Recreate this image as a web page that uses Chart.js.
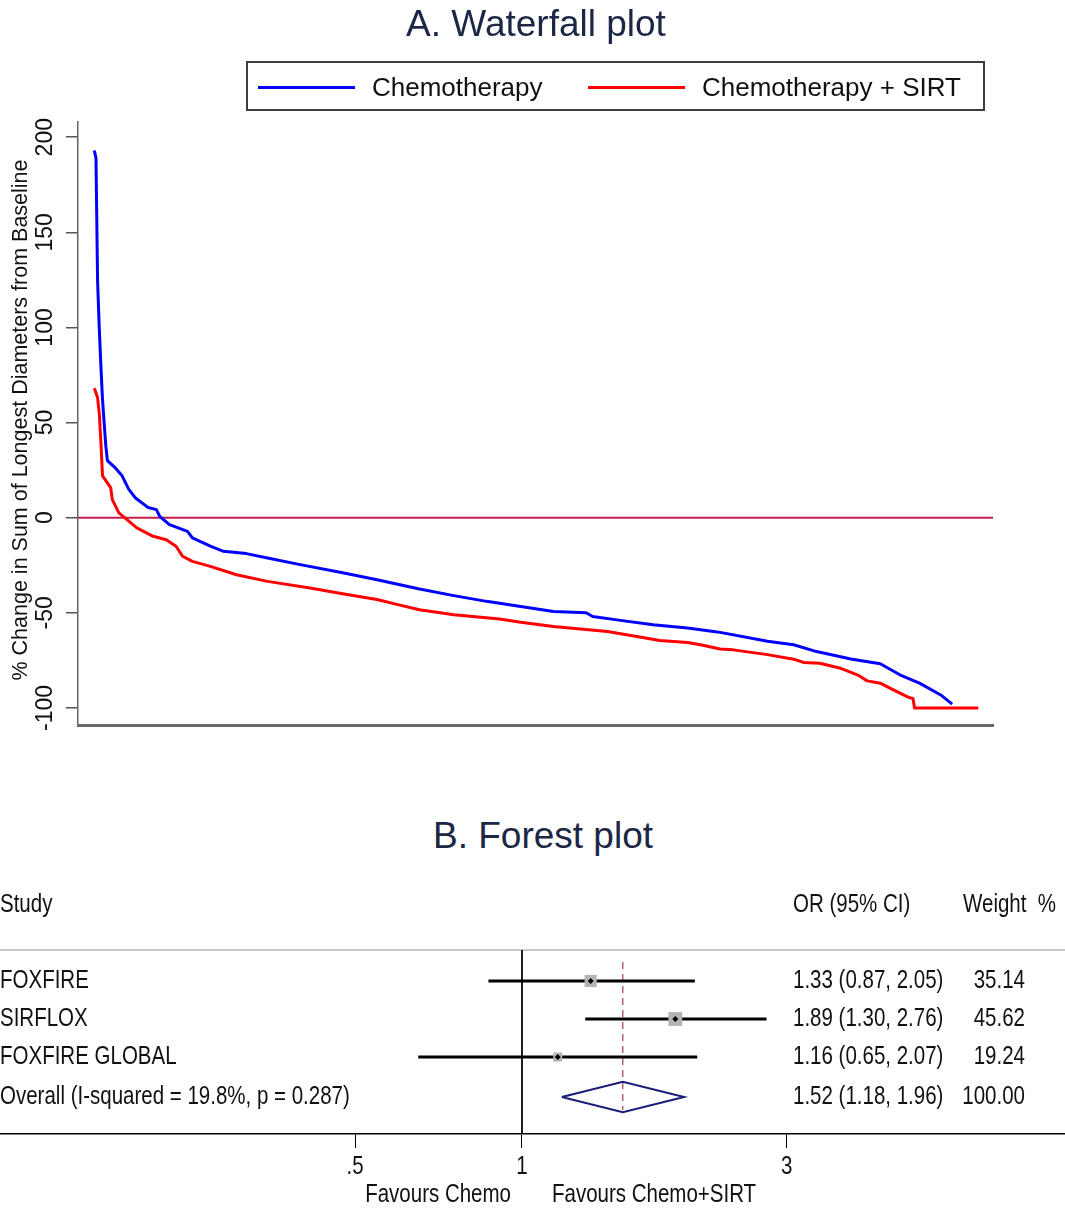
<!DOCTYPE html>
<html>
<head>
<meta charset="utf-8">
<script src="https://cdn.jsdelivr.net/npm/chart.js@4.4.1/dist/chart.umd.min.js"></script>
<style>
  body { margin: 0; background: #fff; }
  #page { position: relative; width: 1065px; height: 1214px; overflow: hidden; font-family: 'Liberation Sans', Arial, sans-serif; }
  .title { position: absolute; color: #1b2745; font-size: 37px; line-height: 40px; text-align: center; white-space: nowrap; }
  #legend { position: absolute; left: 246px; top: 61px; width: 739px; height: 50px; box-sizing: border-box; border: 2px solid #3c3c3c; }
  .swatch { position: absolute; top: 23px; height: 3px; width: 97px; }
  .ltext { position: absolute; top: 9px; font-size: 26px; line-height: 30px; color: #111; white-space: nowrap; }
  #topWrap { position: absolute; left: 0; top: 0; width: 1065px; height: 760px; }
  #forestWrap { position: absolute; left: 0; top: 870px; width: 1065px; height: 344px; }
</style>
</head>
<body>
<div id="page">
  <div id="topWrap"><canvas id="waterfall"></canvas></div>
  <div class="title" style="left:336px; top:4px; width:400px;">A. Waterfall plot</div>
  <div id="legend">
    <div class="swatch" style="left:10px; background:#0000ff;"></div>
    <div class="ltext" style="left:124px;">Chemotherapy</div>
    <div class="swatch" style="left:340px; background:#ff0000;"></div>
    <div class="ltext" style="left:454px;">Chemotherapy + SIRT</div>
  </div>
  <div class="title" style="left:343px; top:816px; width:400px;">B. Forest plot</div>
  <div id="forestWrap"><canvas id="forest"></canvas></div>
</div>
<script>
// ---- Waterfall data (patient rank, % change) ----
const chemoRank = [1, 2, 3, 4, 5, 6, 7, 8, 9, 14, 18, 22, 26, 34, 39, 41, 47, 58, 61, 72, 80, 94, 107, 127, 153, 174, 200, 221, 241, 262, 282, 302, 306, 323, 343, 364, 380, 384, 413, 429, 443, 464, 482, 494, 506, 519, 526];
const chemoPct  = [193, 189, 124, 100, 80, 62, 50, 38, 30, 26, 22, 15, 10.5, 5.3, 4.2, 0.7, -3.7, -7.2, -10.6, -15, -17.7, -18.9, -21.2, -24.7, -29, -32.6, -37.5, -41, -44, -46.7, -49.3, -50, -52, -54, -56.3, -58, -59.8, -60.3, -65, -66.8, -70.4, -74.3, -76.8, -82.6, -87, -93.2, -98];
const sirtRank  = [1, 3, 4, 5, 6, 11, 12, 16, 21, 27, 37, 45, 51, 55, 61, 72, 88, 107, 133, 153, 174, 188, 200, 221, 249, 262, 282, 315, 333, 347, 364, 372, 384, 392, 413, 429, 435, 445, 457, 468, 474, 482, 490, 500, 502, 503, 542];
const sirtPct   = [68, 63, 55, 40, 22, 15.8, 9.5, 2.5, -1, -5.4, -9.8, -11.6, -15, -20.3, -23, -25.6, -30, -33.5, -37, -40, -43, -46, -48.4, -51, -53.3, -55, -57.2, -59.8, -62.5, -64.6, -65.6, -66.8, -69, -69.5, -72, -74.4, -76.1, -76.5, -79, -82.6, -85.8, -87, -90.5, -94.7, -95, -100, -100];
const rankRange = [-9, 551];
const yTicks = [-100, -50, 0, 50, 100, 150, 200];
const yRange = [-109, 208];

// ---- Forest data ----
const studies   = ['FOXFIRE', 'SIRFLOX', 'FOXFIRE GLOBAL'];
const orEst     = [1.33, 1.89, 1.16];
const ciLow     = [0.87, 1.30, 0.65];
const ciHigh    = [2.05, 2.76, 2.07];
const weights   = [35.14, 45.62, 19.24];
const overallLabel = 'Overall (I-squared = 19.8%, p = 0.287)';
const overall   = [1.52, 1.18, 1.96, 100.00]; // est, low, high, weight
const rowPos    = [1, 2, 3, 4.05];
const forestTicks = [0.5, 1, 3];
const forestTickLabels = ['.5', '1', '3'];

const toXY = (xs, ys) => xs.map((x, i) => ({ x: x, y: ys[i] }));

// y tick labels + axis title, rotated like the original
const waterfallText = {
  id: 'waterfallText',
  afterDraw(chart) {
    const ctx = chart.ctx;
    const y = chart.scales.y;
    ctx.save();
    ctx.fillStyle = '#111';
    ctx.textAlign = 'center';
    ctx.textBaseline = 'middle';
    ctx.font = '23px "Liberation Sans", Arial, sans-serif';
    yTicks.forEach(v => {
      ctx.save();
      ctx.translate(46, y.getPixelForValue(v));
      ctx.rotate(-Math.PI / 2);
      ctx.fillText(String(v), 0, 0);
      ctx.restore();
    });
    ctx.font = '21.5px "Liberation Sans", Arial, sans-serif';
    ctx.translate(21, 420);
    ctx.rotate(-Math.PI / 2);
    ctx.fillText('% Change in Sum of Longest Diameters from Baseline', 0, 0);
    ctx.restore();
  }
};

new Chart(document.getElementById('waterfall'), {
  type: 'scatter',
  data: {
    datasets: [
      { label: 'Chemotherapy', data: toXY(chemoRank, chemoPct), showLine: true, borderColor: '#0000ff', borderWidth: 3, pointRadius: 0, tension: 0, borderJoinStyle: 'round' },
      { label: 'Chemotherapy + SIRT', data: toXY(sirtRank, sirtPct), showLine: true, borderColor: '#ff0000', borderWidth: 3, pointRadius: 0, tension: 0, borderJoinStyle: 'round' },
      { label: 'zero', data: toXY(rankRange, [0, 0]), showLine: true, borderColor: '#c41e4a', borderWidth: 2, pointRadius: 0 }
    ]
  },
  options: {
    responsive: true,
    maintainAspectRatio: false,
    animation: false,
    layout: { autoPadding: false, padding: { top: 122, left: 66, right: 72, bottom: 27 } },
    plugins: { legend: { display: false }, tooltip: { enabled: false } },
    scales: {
      x: {
        type: 'linear', min: rankRange[0], max: rankRange[1],
        grid: { display: false },
        ticks: { display: false },
        border: { display: true, color: '#6a6a6a', width: 3 }
      },
      y: {
        type: 'linear', min: yRange[0], max: yRange[1],
        afterBuildTicks: s => { s.ticks = yTicks.map(v => ({ value: v })); },
        grid: { display: true, drawOnChartArea: false, drawTicks: true, tickLength: 12, color: '#555', lineWidth: 1.5 },
        ticks: { display: false },
        border: { display: true, color: '#666', width: 1.5 }
      }
    }
  },
  plugins: [waterfallText]
});

// ---- Forest plot ----
// Stata draws these in a condensed face; squeeze the regular one
const squeeze = 0.82;
const fFont = '25px "Liberation Sans", Arial, sans-serif';
function narrowText(ctx, txt, x, y, align) {
  ctx.save();
  ctx.translate(x, y);
  ctx.scale(squeeze, 1);
  ctx.textAlign = align;
  ctx.fillText(txt, 0, 0);
  ctx.restore();
}

const forestText = {
  id: 'forestText',
  beforeDatasetsDraw(chart) {
    const { ctx, chartArea } = chart;
    ctx.save();
    ctx.strokeStyle = '#c8c8c8';
    ctx.lineWidth = 2;
    ctx.beginPath();
    ctx.moveTo(0, chartArea.top);
    ctx.lineTo(chart.width, chartArea.top);
    ctx.stroke();
    ctx.restore();
  },
  afterDraw(chart) {
    const { ctx, chartArea } = chart;
    const y = chart.scales.y;
    const x = chart.scales.x;
    ctx.save();
    ctx.fillStyle = '#111';
    ctx.textBaseline = 'middle';
    ctx.font = fFont;
    const hy = chartArea.top - 45;
    narrowText(ctx, 'Study', 0, hy, 'left');
    narrowText(ctx, 'OR (95% CI)', 793, hy, 'left');
    narrowText(ctx, 'Weight  %', 963, hy, 'left');
    const labels = studies.concat([overallLabel]);
    const est = orEst.concat([overall[0]]);
    const lo = ciLow.concat([overall[1]]);
    const hi = ciHigh.concat([overall[2]]);
    const w = weights.concat([overall[3]]);
    labels.forEach((lab, i) => {
      const py = y.getPixelForValue(rowPos[i]);
      narrowText(ctx, lab, 0, py, 'left');
      narrowText(ctx, est[i].toFixed(2) + ' (' + lo[i].toFixed(2) + ', ' + hi[i].toFixed(2) + ')', 793, py, 'left');
      narrowText(ctx, w[i].toFixed(2), 1025, py, 'right');
    });
    // axis tick labels
    forestTicks.forEach((v, i) => {
      narrowText(ctx, forestTickLabels[i], x.getPixelForValue(v), chartArea.bottom + 33, 'center');
    });
    const fy = chartArea.bottom + 61;
    const one = x.getPixelForValue(1);
    narrowText(ctx, 'Favours Chemo', one - 11, fy, 'right');
    narrowText(ctx, 'Favours Chemo+SIRT', one + 30, fy, 'left');
    ctx.restore();
  }
};

const forestSets = [];
// point estimates (small black marker) on top
forestSets.push({ data: toXY(orEst, rowPos.slice(0, 3)), pointStyle: 'rectRot', pointRadius: 3, backgroundColor: '#000', borderColor: '#000', borderWidth: 0 });
// weighted grey squares
forestSets.push({ data: toXY(orEst, rowPos.slice(0, 3)), pointStyle: 'rect', pointRadius: weights.map(v => 1.45 * Math.sqrt(v)), backgroundColor: '#b4b4b4', borderColor: '#b4b4b4', borderWidth: 0 });
// confidence intervals
studies.forEach((s, i) => {
  forestSets.push({ data: toXY([ciLow[i], ciHigh[i]], [rowPos[i], rowPos[i]]), showLine: true, borderColor: '#000', borderWidth: 3, pointRadius: 0 });
});
// overall diamond
forestSets.push({
  data: toXY([overall[1], overall[0], overall[2], overall[0], overall[1]], [rowPos[3], rowPos[3] - 0.4, rowPos[3], rowPos[3] + 0.4, rowPos[3]]),
  showLine: true, borderColor: '#1a1a78', borderWidth: 2, pointRadius: 0, tension: 0
});
// overall estimate dashed line
forestSets.push({ data: toXY([overall[0], overall[0]], [0.5, 4.4]), showLine: true, borderColor: '#8b2020', borderWidth: 1, borderDash: [7, 5], pointRadius: 0 });
// no-effect line
forestSets.push({ data: toXY([1, 1], [0.184, 5.026]), showLine: true, borderColor: '#000', borderWidth: 1, pointRadius: 0 });

new Chart(document.getElementById('forest'), {
  type: 'scatter',
  data: { datasets: forestSets },
  options: {
    responsive: true,
    maintainAspectRatio: false,
    animation: false,
    layout: { autoPadding: false, padding: { top: 80, left: 0, right: 0, bottom: 66 } },
    plugins: { legend: { display: false }, tooltip: { enabled: false } },
    scales: {
      x: {
        type: 'logarithmic', min: 0.1145, max: 9.53,
        afterBuildTicks: s => { s.ticks = forestTicks.map(v => ({ value: v })); },
        grid: { display: true, drawOnChartArea: false, drawTicks: true, tickLength: 14, color: '#000', lineWidth: 1 },
        border: { display: true, color: '#000', width: 1.5 },
        ticks: { display: false }
      },
      y: { type: 'linear', reverse: true, min: 0.184, max: 5.026, display: false }
    }
  },
  plugins: [forestText]
});
</script>
</body>
</html>
